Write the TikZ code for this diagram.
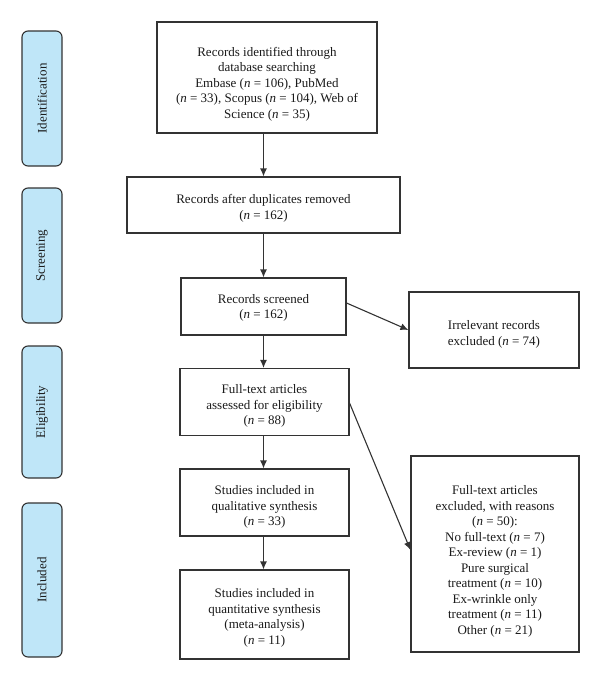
\documentclass[tikz,border=0pt]{standalone}
\usepackage{fontspec}
\setmainfont{Liberation Serif}
\usetikzlibrary{arrows.meta,calc}
\definecolor{linecol}{HTML}{333333}
\definecolor{txtcol}{HTML}{1A1A1A}
\definecolor{phasefill}{HTML}{BFE6F8}
\newcommand{\nn}{\textit{n}}
\newcommand{\bx}[2][4pt]{\raisebox{-#1}[\height][\depth]{\begin{tabular}{@{}c@{}}#2\end{tabular}}}
\begin{document}
\begin{tikzpicture}[x=1pt,y=-1pt,
  every node/.style={font=\fontsize{13}{15.5}\selectfont, text=txtcol},
  box/.style={draw=linecol, line width=1.1pt, fill=white, inner sep=2pt},
  phase/.style={draw=linecol, line width=1.1pt, fill=phasefill, rounded corners=6pt,
    minimum width=40pt, rotate=90, inner sep=0pt},
  arr/.style={draw=linecol, line width=1.1pt, -{Latex[length=8pt,width=7pt]}}]
\useasboundingbox (0,0) rectangle (600,681);
% phase labels
\node[phase, minimum height=40pt, minimum width=135pt] (pid) at (42,98.5) {Identification};
\node[phase, minimum height=40pt, minimum width=135pt] (psc) at (42,255.5) {Screening};
\node[phase, minimum height=40pt, minimum width=132pt] (pel) at (42,412) {Eligibility};
\node[phase, minimum height=40pt, minimum width=154pt] (pin) at (42,580) {Included};
% boxes
\node[box, minimum width=220pt, minimum height=111pt] (b1) at (267,77.5)
  {\bx[6.5pt]{Records identified through\\database searching\\Embase (\nn{} = 106), PubMed\\(\nn{} = 33), Scopus (\nn{} = 104), Web of\\Science (\nn{} = 35)}};
\node[box, minimum width=273pt, minimum height=56pt] (b2) at (263.5,205)
  {\bx[3.5pt]{Records after duplicates removed\\(\nn{} = 162)}};
\node[box, minimum width=165pt, minimum height=57pt] (b3) at (263.5,306.5)
  {\bx[1.5pt]{Records screened\\(\nn{} = 162)}};
\node[box, minimum width=170pt, minimum height=76pt] (irr) at (494,330)
  {\bx[4.5pt]{Irrelevant records\\excluded (\nn{} = 74)}};
\node[box, minimum width=169pt, minimum height=67pt] (b4) at (264.5,402)
  {\bx[4pt]{Full-text articles\\assessed for eligibility\\(\nn{} = 88)}};
\node[box, minimum width=169pt, minimum height=67pt] (b5) at (264.5,502.5)
  {\bx[4.5pt]{Studies included in\\qualitative synthesis\\(\nn{} = 33)}};
\node[box, minimum width=169pt, minimum height=89pt] (b6) at (264.5,614.5)
  {\bx[3.5pt]{Studies included in\\quantitative synthesis\\(meta-analysis)\\(\nn{} = 11)}};
\node[box, minimum width=168pt, minimum height=196pt] (exc) at (495,554)
  {\bx[7.5pt]{Full-text articles\\excluded, with reasons\\(\nn{} = 50):\\No full-text (\nn{} = 7)\\Ex-review (\nn{} = 1)\\Pure surgical\\treatment (\nn{} = 10)\\Ex-wrinkle only\\treatment (\nn{} = 11)\\Other (\nn{} = 21)}};
% connectors
\draw[arr] (b2.north |- b1.south) -- (b2.north);
\draw[arr] (b2.south) -- (b3.north);
\draw[arr] (b3.south) -- (b3.south |- b4.north);
\draw[arr] (b3.south |- b4.south) -- (b3.south |- b5.north);
\draw[arr] (b3.south |- b5.south) -- (b3.south |- b6.north);
\draw[arr] ($(b3.east)+(0,-3.5)$) -- (irr.west);
\draw[arr] ($(b4.east)+(0,1)$) -- ($(exc.west)+(0,-4)$);
\end{tikzpicture}
\end{document}
